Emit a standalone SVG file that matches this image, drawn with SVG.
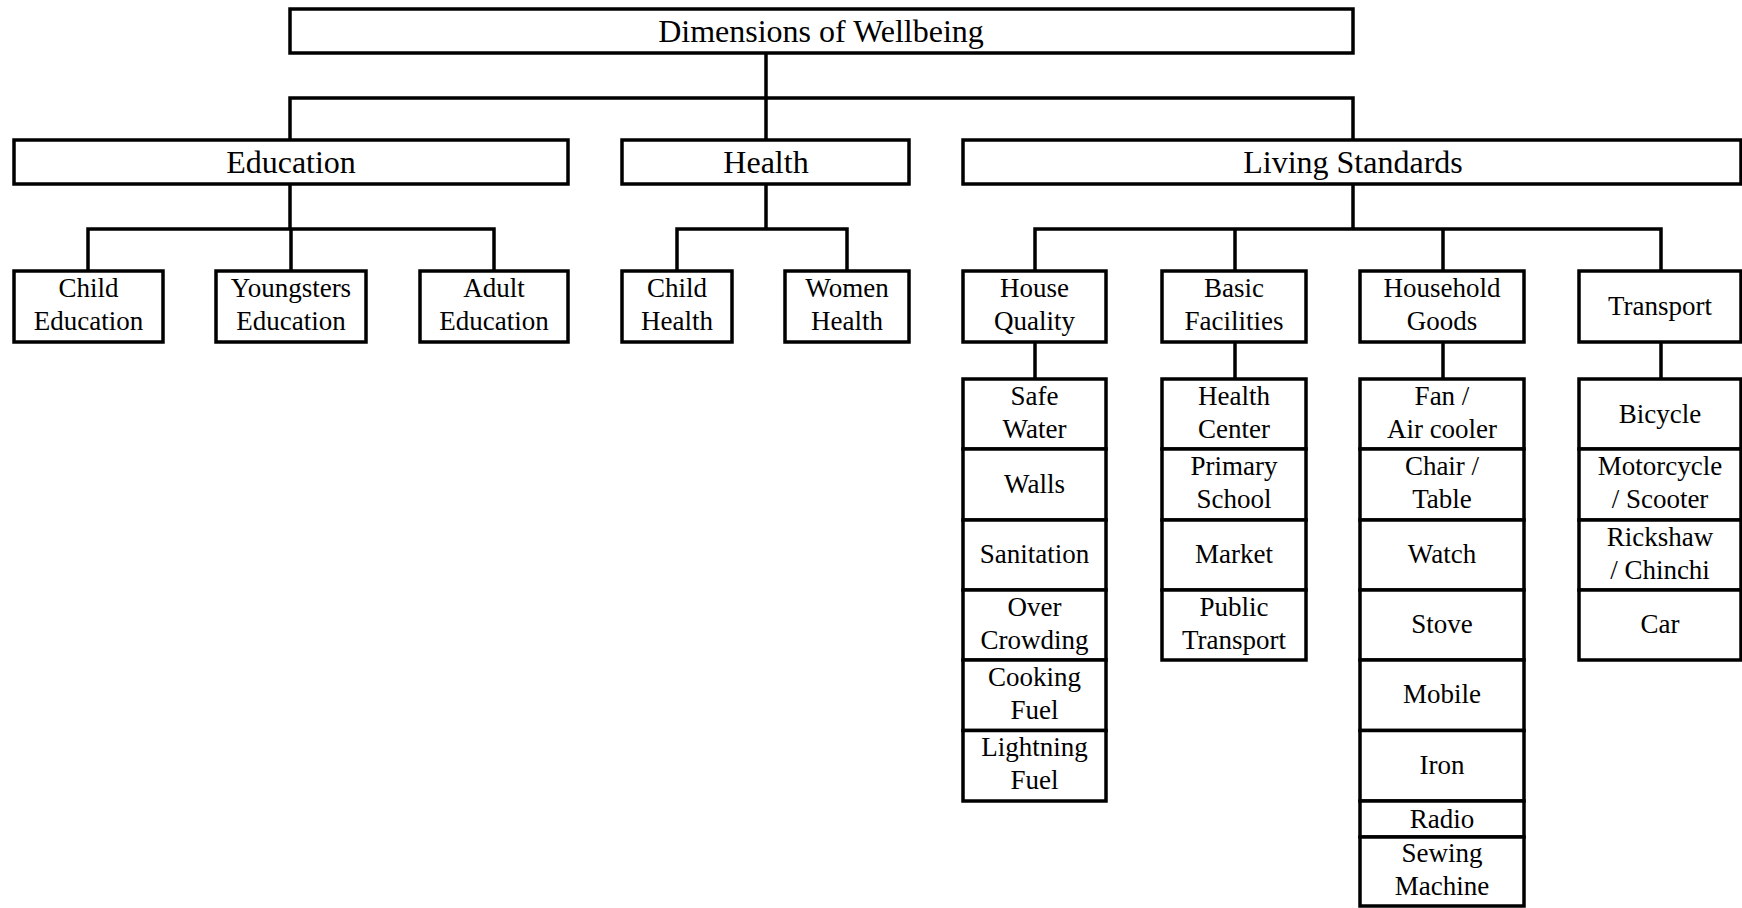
<svg xmlns="http://www.w3.org/2000/svg" width="1742" height="908" viewBox="0 0 1742 908">
<style>
.b{fill:#fff;stroke:#000;stroke-width:3.5}
.c{fill:none;stroke:#000;stroke-width:3.5;stroke-linecap:square}
text{font-family:"Liberation Serif","Times New Roman",serif;fill:#000;text-anchor:middle}
.L{font-size:32px}
.s{font-size:27px}
</style>
<rect width="1742" height="908" fill="#fff"/>
<g id="connectors">
<path class="c" d="M766 53V98M290 98H1353M290 98V140M766 98V140M1353 98V140"/>
<path class="c" d="M290 184V229M88 229H494M88 229V271M291 229V271M494 229V271"/>
<path class="c" d="M766 184V229M677 229H847M677 229V271M847 229V271"/>
<path class="c" d="M1353 184V229M1035 229H1661M1035 229V271M1235 229V271M1443 229V271M1661 229V271"/>
<path class="c" d="M1035 342V379M1235 342V379M1443 342V379M1661 342V379"/>
</g>
<g id="root"><rect class="b" x="290" y="9" width="1063" height="44"/><text class="L" x="821" y="42">Dimensions of Wellbeing</text></g>
<g id="education"><rect class="b" x="14" y="140" width="554" height="44"/><text class="L" x="291" y="173">Education</text></g>
<g id="health"><rect class="b" x="622" y="140" width="287" height="44"/><text class="L" x="766" y="173">Health</text></g>
<g id="living"><rect class="b" x="963" y="140" width="778" height="44"/><text class="L" x="1353" y="173">Living Standards</text></g>

<g id="child-edu"><rect class="b" x="14" y="271" width="149" height="71"/><text class="s" x="88.5" y="297">Child</text><text class="s" x="88.5" y="330">Education</text></g>
<g id="young-edu"><rect class="b" x="216" y="271" width="150" height="71"/><text class="s" x="291" y="297">Youngsters</text><text class="s" x="291" y="330">Education</text></g>
<g id="adult-edu"><rect class="b" x="420" y="271" width="148" height="71"/><text class="s" x="494" y="297">Adult</text><text class="s" x="494" y="330">Education</text></g>
<g id="child-health"><rect class="b" x="622" y="271" width="110" height="71"/><text class="s" x="677" y="297">Child</text><text class="s" x="677" y="330">Health</text></g>
<g id="women-health"><rect class="b" x="785" y="271" width="124" height="71"/><text class="s" x="847" y="297">Women</text><text class="s" x="847" y="330">Health</text></g>
<g id="house-quality"><rect class="b" x="963" y="271" width="143" height="71"/><text class="s" x="1034.5" y="297">House</text><text class="s" x="1034.5" y="330">Quality</text></g>
<g id="basic-facilities"><rect class="b" x="1162" y="271" width="144" height="71"/><text class="s" x="1234" y="297">Basic</text><text class="s" x="1234" y="330">Facilities</text></g>
<g id="household-goods"><rect class="b" x="1360" y="271" width="164" height="71"/><text class="s" x="1442" y="297">Household</text><text class="s" x="1442" y="330">Goods</text></g>
<g id="transport"><rect class="b" x="1579" y="271" width="162" height="71"/><text class="s" x="1660" y="315">Transport</text></g>

<g id="hq-items">
<rect class="b" x="963" y="379" width="143" height="70"/><text class="s" x="1034.5" y="405">Safe</text><text class="s" x="1034.5" y="438">Water</text>
<rect class="b" x="963" y="449" width="143" height="71"/><text class="s" x="1034.5" y="493">Walls</text>
<rect class="b" x="963" y="520" width="143" height="70"/><text class="s" x="1034.5" y="563">Sanitation</text>
<rect class="b" x="963" y="590" width="143" height="70"/><text class="s" x="1034.5" y="616">Over</text><text class="s" x="1034.5" y="649">Crowding</text>
<rect class="b" x="963" y="660" width="143" height="70.5"/><text class="s" x="1034.5" y="686">Cooking</text><text class="s" x="1034.5" y="719">Fuel</text>
<rect class="b" x="963" y="730.5" width="143" height="70.5"/><text class="s" x="1034.5" y="756">Lightning</text><text class="s" x="1034.5" y="789">Fuel</text>
</g>
<g id="bf-items">
<rect class="b" x="1162" y="379" width="144" height="70"/><text class="s" x="1234" y="405">Health</text><text class="s" x="1234" y="438">Center</text>
<rect class="b" x="1162" y="449" width="144" height="71"/><text class="s" x="1234" y="475">Primary</text><text class="s" x="1234" y="508">School</text>
<rect class="b" x="1162" y="520" width="144" height="70"/><text class="s" x="1234" y="563">Market</text>
<rect class="b" x="1162" y="590" width="144" height="70"/><text class="s" x="1234" y="616">Public</text><text class="s" x="1234" y="649">Transport</text>
</g>
<g id="hg-items">
<rect class="b" x="1360" y="379" width="164" height="70"/><text class="s" x="1442" y="405">Fan /</text><text class="s" x="1442" y="438">Air cooler</text>
<rect class="b" x="1360" y="449" width="164" height="71"/><text class="s" x="1442" y="475">Chair /</text><text class="s" x="1442" y="508">Table</text>
<rect class="b" x="1360" y="520" width="164" height="70"/><text class="s" x="1442" y="563">Watch</text>
<rect class="b" x="1360" y="590" width="164" height="70"/><text class="s" x="1442" y="633">Stove</text>
<rect class="b" x="1360" y="660" width="164" height="70.5"/><text class="s" x="1442" y="703">Mobile</text>
<rect class="b" x="1360" y="730.5" width="164" height="70.5"/><text class="s" x="1442" y="774">Iron</text>
<rect class="b" x="1360" y="801" width="164" height="36"/><text class="s" x="1442" y="828">Radio</text>
<rect class="b" x="1360" y="837" width="164" height="69"/><text class="s" x="1442" y="862">Sewing</text><text class="s" x="1442" y="895">Machine</text>
</g>
<g id="tr-items">
<rect class="b" x="1579" y="379" width="162" height="70"/><text class="s" x="1660" y="423">Bicycle</text>
<rect class="b" x="1579" y="449" width="162" height="71"/><text class="s" x="1660" y="475">Motorcycle</text><text class="s" x="1660" y="508">/ Scooter</text>
<rect class="b" x="1579" y="520" width="162" height="70"/><text class="s" x="1660" y="546">Rickshaw</text><text class="s" x="1660" y="579">/ Chinchi</text>
<rect class="b" x="1579" y="590" width="162" height="70"/><text class="s" x="1660" y="633">Car</text>
</g>
</svg>
